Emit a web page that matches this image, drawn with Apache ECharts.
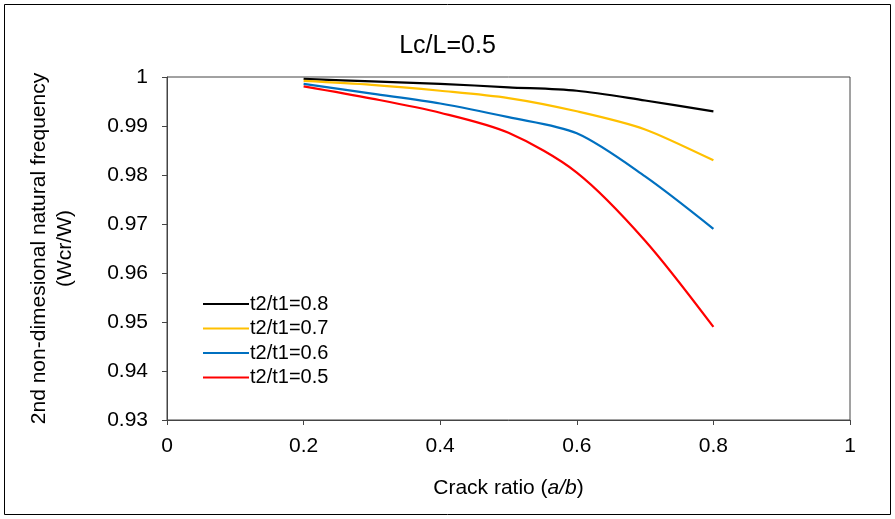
<!DOCTYPE html>
<html><head><meta charset="utf-8">
<script src="https://cdn.jsdelivr.net/npm/echarts@6/dist/echarts.min.js"></script>
<style>html,body{margin:0;padding:0;background:#fff}#c{width:895px;height:519px}</style>
</head><body><div id="c"></div>
<script>
const crackRatio = [0.2, 0.3, 0.4, 0.5, 0.6, 0.7, 0.8];
const t08 = [0.9996, 0.9991, 0.9986, 0.9979, 0.9972, 0.9952, 0.9930];
const t07 = [0.9992, 0.9984, 0.9972, 0.9957, 0.9930, 0.9893, 0.9830];
const t06 = [0.9986, 0.9966, 0.9946, 0.9918, 0.9885, 0.9797, 0.9690];
const t05 = [0.9981, 0.9956, 0.9927, 0.9886, 0.9805, 0.9666, 0.9490];
const seriesNames = ['t2/t1=0.8', 't2/t1=0.7', 't2/t1=0.6', 't2/t1=0.5'];
const seriesColors = ['#000000', '#FFC000', '#0070C0', '#FF0000'];
const seriesData = [t08, t07, t06, t05];

const font = 'Liberation Sans, Arial, sans-serif';
const chart = echarts.init(document.getElementById('c'));
chart.setOption({
  animation: false,
  backgroundColor: '#fff',
  title: {
    text: 'Lc/L=0.5', left: 'center', top: 29,
    textStyle: { fontFamily: font, fontSize: 25, fontWeight: 'normal', color: '#000' }
  },
  graphic: [{
    type: 'rect', shape: { x: 4.5, y: 4.5, width: 886, height: 510 },
    style: { fill: 'none', stroke: '#000', lineWidth: 1 }, silent: true
  }],
  legend: {
    orient: 'vertical', left: 198, top: 289, itemGap: 4.5,
    itemWidth: 46, itemHeight: 2, icon: 'rect',
    textStyle: { fontFamily: font, fontSize: 20, color: '#000', padding: [0, 0, 0, -4] },
    data: seriesNames
  },
  grid: { left: 167, right: 45, top: 77, bottom: 99, show: true, borderColor: '#444', borderWidth: 1 },
  xAxis: {
    type: 'value', min: 0, max: 1, interval: 0.2,
    name: 'Crack ratio ({i|a/b})', nameLocation: 'middle', nameGap: 58,
    nameTextStyle: { fontFamily: font, fontSize: 21, color: '#000', rich: { i: { fontFamily: font, fontSize: 21, fontStyle: 'italic', color: '#000' } } },
    axisLine: { lineStyle: { color: '#444' } },
    axisTick: { show: true, length: 5, lineStyle: { color: '#444' } },
    axisLabel: { fontFamily: font, fontSize: 21, color: '#000', margin: 16 },
    splitLine: { show: false }
  },
  yAxis: {
    type: 'value', min: 0.93, max: 1, interval: 0.01,
    name: '2nd non-dimesional natural frequency\n(Wcr/W)', nameLocation: 'middle', nameGap: 89, nameRotate: 90,
    nameTextStyle: { fontFamily: font, fontSize: 21, color: '#000', lineHeight: 26 },
    axisLine: { show: true, lineStyle: { color: '#444' } },
    axisTick: { show: true, length: 5, lineStyle: { color: '#444' } },
    axisLabel: { fontFamily: font, fontSize: 21, color: '#000', margin: 19, formatter: v => String(+v.toFixed(2)) },
    splitLine: { show: false }
  },
  series: seriesNames.map((n, i) => ({
    name: n, type: 'line', smooth: 0.3, showSymbol: false, symbol: 'none',
    color: seriesColors[i], lineStyle: { width: 2.2, color: seriesColors[i] },
    data: crackRatio.map((x, j) => [x, seriesData[i][j]])
  }))
});
</script></body></html>
